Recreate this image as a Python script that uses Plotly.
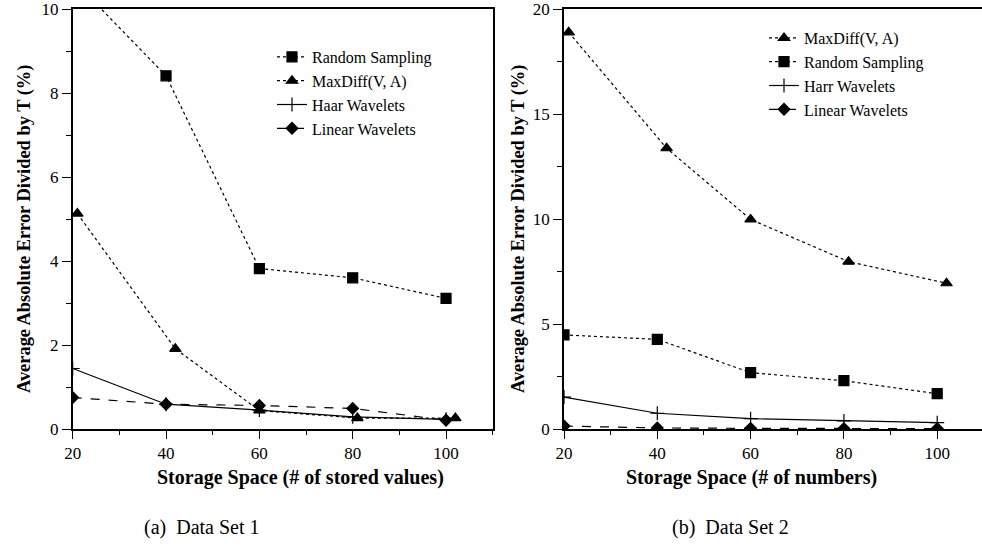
import plotly.graph_objects as go

W, H = 982, 548

# ---------------- data: panel (a) Data Set 1 ----------------
a_x = [20, 40, 60, 80, 100]
a_maxdiff_x = [21, 42, 60, 81, 102]
a_random = [10.7, 8.41, 3.82, 3.60, 3.11]
a_maxdiff = [5.13, 1.91, 0.44, 0.26, 0.26]
a_haar = [1.44, 0.59, 0.45, 0.29, 0.23]
a_linear = [0.75, 0.59, 0.56, 0.49, 0.21]

# ---------------- data: panel (b) Data Set 2 ----------------
b_x = [20, 40, 60, 80, 100]
b_maxdiff_x = [21, 42, 60, 81, 102]
b_maxdiff = [18.89, 13.37, 9.98, 7.97, 6.94]
b_random = [4.48, 4.27, 2.68, 2.30, 1.68]
b_harr = [1.52, 0.75, 0.49, 0.38, 0.30]
b_linear = [0.14, 0.05, 0.03, 0.02, 0.02]

a_yticks = [0, 2, 4, 6, 8, 10]
b_yticks = [0, 5, 10, 15, 20]
x_ticks = [20, 40, 60, 80, 100]

SERIF = "Liberation Serif, Times New Roman, serif"
BLACK = "black"

fig = go.Figure()

def add(x, y, name, dash, symbol, msize, xa, ya, legend):
    fig.add_trace(go.Scatter(
        x=x, y=y, name=name, mode="lines+markers",
        line=dict(color=BLACK, width=1.2, dash=dash),
        marker=dict(symbol=symbol, size=msize, color=BLACK,
                    line=dict(color=BLACK, width=1.2)),
        xaxis=xa, yaxis=ya, legend=legend, cliponaxis=True,
    ))

# panel (a)
add(a_x, a_random, "Random Sampling", "dot", "square", 10, "x", "y", "legend")
add(a_maxdiff_x, a_maxdiff, "MaxDiff(V, A)", "dot", "triangle-up", 10, "x", "y", "legend")
add(a_x, a_haar, "Haar Wavelets", "solid", "cross-thin-open", 10, "x", "y", "legend")
add(a_x, a_linear, "Linear Wavelets", "dash", "diamond", 9, "x", "y", "legend")

# panel (b)
add(b_maxdiff_x, b_maxdiff, "MaxDiff(V, A)", "dot", "triangle-up", 10, "x2", "y2", "legend2")
add(b_x, b_random, "Random Sampling", "dot", "square", 10, "x2", "y2", "legend2")
add(b_x, b_harr, "Harr Wavelets", "solid", "cross-thin-open", 10, "x2", "y2", "legend2")
add(b_x, b_linear, "Linear Wavelets", "dash", "diamond", 9, "x2", "y2", "legend2")

tickfont = dict(family=SERIF, size=17, color=BLACK)

def xaxis(domain, rng, anchor):
    return dict(domain=domain, range=rng, tickvals=x_ticks, showgrid=False,
                zeroline=False, showline=True, linecolor=BLACK, linewidth=1.5,
                mirror=True, ticks="outside", ticklen=8, tickwidth=1.2,
                tickcolor=BLACK, tickfont=tickfont, anchor=anchor,
                automargin=False, ticklabeloverflow="allow",
                minor=dict(ticks="outside", ticklen=4, tickwidth=1.2,
                           tickcolor=BLACK, dtick=10, tick0=0, showgrid=False))

def yaxis(domain, rng, ticks, minor_dt, anchor):
    return dict(domain=domain, range=rng, tickvals=ticks, showgrid=False,
                zeroline=False, showline=True, linecolor=BLACK, linewidth=1.5,
                mirror=True, ticks="outside", ticklen=9, tickwidth=1.2,
                tickcolor=BLACK, tickfont=tickfont, anchor=anchor,
                automargin=False, ticklabeloverflow="allow",
                minor=dict(ticks="outside", ticklen=5, tickwidth=1.2,
                           tickcolor=BLACK, dtick=minor_dt, tick0=0, showgrid=False))

ydom = [(H - 429) / H, (H - 9) / H]
xa_dom = [72.7 / W, 492.7 / W]
xb_dom = [564 / W, 1.0]
xb_max = 20 + (982 - 564) / (93.3 / 20)

legfont = dict(family=SERIF, size=16, color=BLACK)

fig.update_layout(
    width=W, height=H,
    template="none",
    margin=dict(l=0, r=0, t=0, b=0, pad=0),
    paper_bgcolor="white", plot_bgcolor="white",
    xaxis=xaxis(xa_dom, [20, 110], "y"),
    yaxis=yaxis(ydom, [0, 10], a_yticks, 1, "x"),
    xaxis2=xaxis(xb_dom, [20, xb_max], "y2"),
    yaxis2=yaxis(ydom, [0, 20], b_yticks, 2.5, "x2"),
    legend=dict(x=272 / W, y=1 - 40 / H, xanchor="left", yanchor="top",
                font=legfont, bgcolor="rgba(0,0,0,0)", tracegroupgap=0,
                borderwidth=0),
    legend2=dict(x=764 / W, y=1 - 21 / H, xanchor="left", yanchor="top",
                 font=legfont, bgcolor="rgba(0,0,0,0)", tracegroupgap=0,
                 borderwidth=0),
    showlegend=True,
)

titlefont = dict(family=SERIF, size=20, color=BLACK)
ytitlefont = dict(family=SERIF, size=18.4, color=BLACK)
capfont = dict(family=SERIF, size=20, color=BLACK)

ann = [
    dict(text="<b>Average Absolute Error Divided by T (%)</b>", x=24 / W, y=1 - 229 / H,
         textangle=-90, font=ytitlefont),
    dict(text="<b>Average Absolute Error Divided by T (%)</b>", x=518 / W, y=1 - 229 / H,
         textangle=-90, font=ytitlefont),
    dict(text="<b>Storage Space (# of stored values)</b>", x=300 / W, y=1 - 477 / H,
         font=titlefont),
    dict(text="<b>Storage Space (# of numbers)</b>", x=751 / W, y=1 - 477 / H,
         font=titlefont),
    dict(text="(a)  Data Set 1", x=202 / W, y=1 - 527 / H, font=capfont),
    dict(text="(b)  Data Set 2", x=730 / W, y=1 - 527 / H, font=capfont),
]
for a in ann:
    a.update(xref="paper", yref="paper", showarrow=False, xanchor="center", yanchor="middle")
fig.update_layout(annotations=ann)

fig.write_html("out.html", config={"displayModeBar": False},
               post_script="document.body.style.margin='0px';")
